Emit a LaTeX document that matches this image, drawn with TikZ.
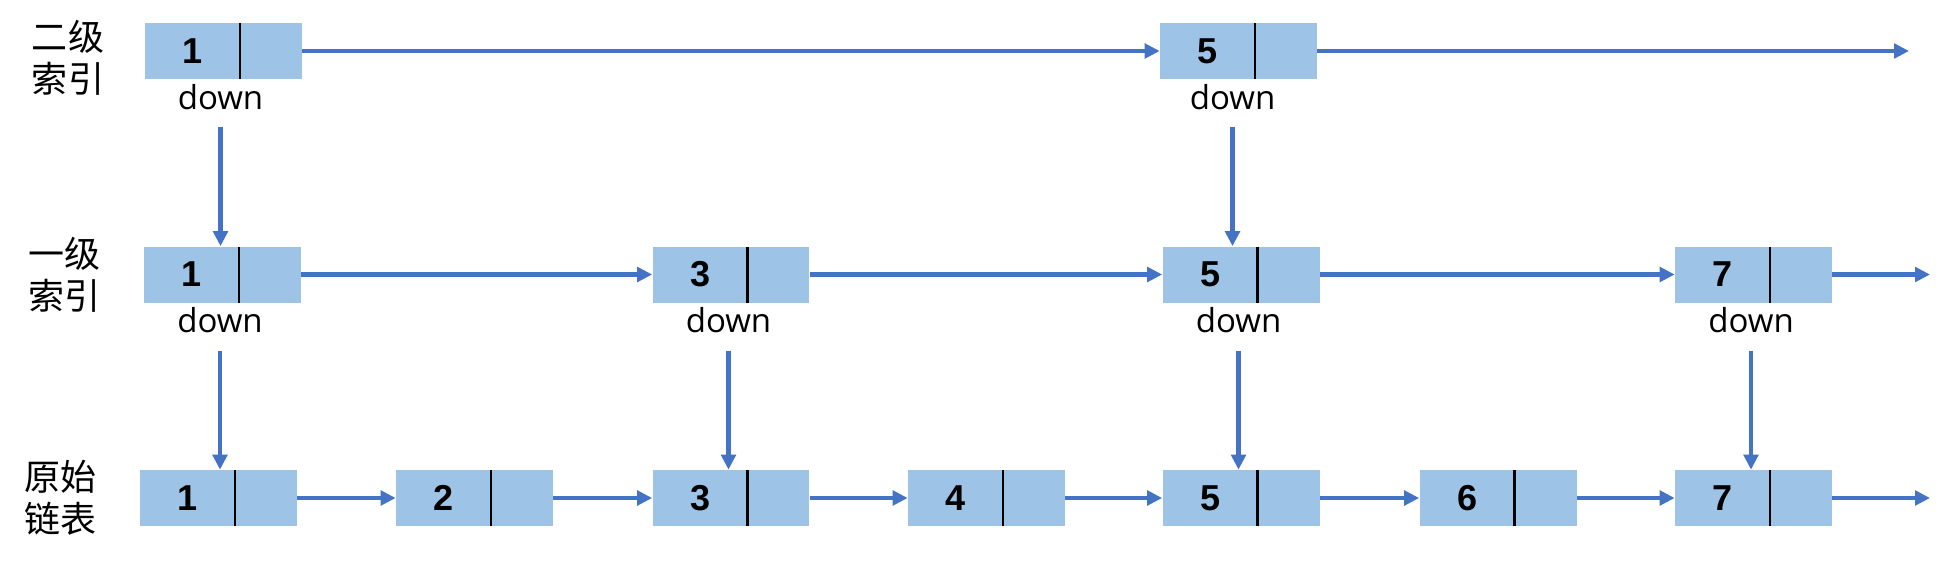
\documentclass[tikz,border=0pt]{standalone}
\usepackage{fontspec}
\usepackage{xcolor}
\setmainfont{Liberation Sans}
\newfontfamily\cjkfont{Noto Sans CJK SC}
\newfontfamily\downfont{Open Sans}
\usepackage{tikz}
\usetikzlibrary{arrows.meta,positioning}
\definecolor{cellblue}{HTML}{9DC3E6}
\definecolor{linkblue}{HTML}{4472C4}
\tikzset{
	cell/.style = {shape=rectangle, fill=cellblue, inner sep=0pt,
		minimum width=3.14cm, minimum height=1.12cm,
		path picture={\draw[line width=1.5pt]
			([xshift=0.33cm]path picture bounding box.north) --
			([xshift=0.33cm]path picture bounding box.south);},
		label={[num]center:#1}},
	num/.style  = {font=\bfseries\fontsize{20.5}{24}\selectfont, xshift=-0.62cm},
	ptr/.style  = {font=\downfont\fontsize{18.8}{22}\selectfont, inner sep=0pt},
	lvl/.style  = {font=\cjkfont\fontsize{20.5}{24}\selectfont, align=center, inner sep=0pt},
	link/.style = {draw=linkblue, line width=2.7pt, -{Triangle[length=0.3cm,width=0.29cm]}}
}

\begin{document}
\begin{tikzpicture}
[
x = 0.02cm, y = -0.02cm
]
\useasboundingbox (0,0) rectangle (1946,565);
% level names
\node [lvl] (L2) at (68,58) {二级\\索引};
\node [lvl] (L1) at (65,275) {一级\\索引};
\node [lvl] (L0) at (61,498) {原始\\链表};
% second level index
\node [cell=1] (A1) at (223.5,51) {};
\node [cell=5] (A5) at (1238.5,51) {};
\node [ptr, below=0.1cm of A1, xshift=-0.06cm] (dA1) {down};
\node [ptr, below=0.1cm of A5, xshift=-0.12cm] (dA5) {down};
\coordinate (eA) at (1909,51);
\draw [link] (A1.east) -- (A5.west);
\draw [link] (A5.east) -- (eA);
% first level index
\foreach \i/\x in {1/222.5, 3/731, 5/1241, 7/1753.5}
	\node [cell=\i] (B\i) at (\x,274.5) {};
\foreach \i in {1,3,5,7}
	\node [ptr, below=0.08cm of B\i, xshift=-0.05cm] (dB\i) {down};
\coordinate (eB) at (1930,274.5);
\foreach \i/\j in {1/3, 3/5, 5/7}
	\draw [link] (B\i.east) -- (B\j.west);
\draw [link] (B7.east) -- (eB);
% original list
\foreach \i/\x in {1/218.5, 2/474.5, 3/731, 4/986.5, 5/1241, 6/1498, 7/1753.5}
	\node [cell=\i] (C\i) at (\x,498) {};
\coordinate (eC) at (1930,498);
\foreach \i/\j in {1/2, 2/3, 3/4, 4/5, 5/6, 6/7}
	\draw [link] (C\i.east) -- (C\j.west);
\draw [link] (C7.east) -- (eC);
% down pointers
\draw [link] ([yshift=-0.34cm]dA1.south) -- (dA1.south |- B1.north);
\draw [link] ([yshift=-0.34cm]dA5.south) -- (dA5.south |- B5.north);
\foreach \i in {1,3,5,7}
	\draw [link] ([yshift=-0.36cm]dB\i.south) -- (dB\i.south |- C\i.north);
\end{tikzpicture}
\end{document}
